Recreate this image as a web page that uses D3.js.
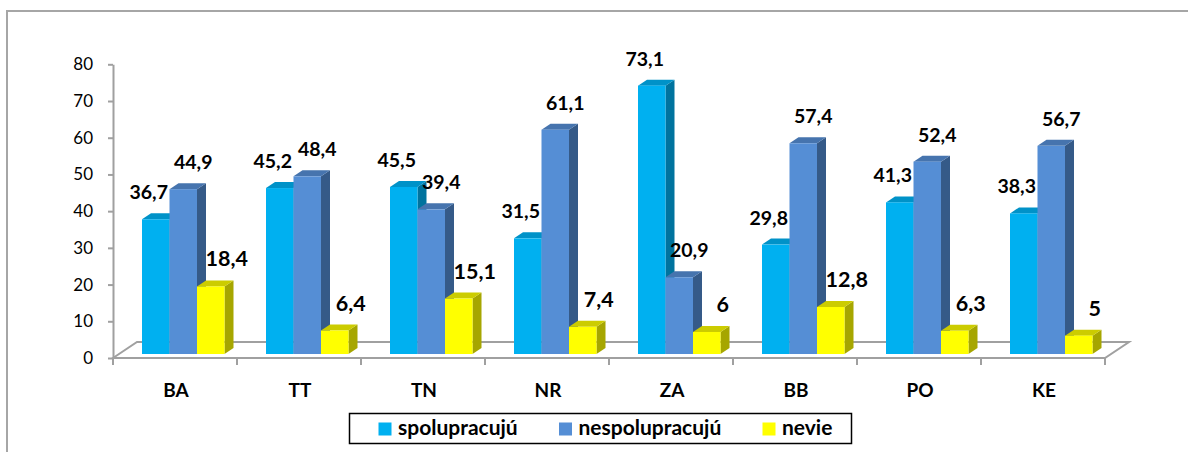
<!DOCTYPE html>
<html>
<head>
<meta charset="utf-8">
<script src="https://cdn.jsdelivr.net/npm/d3@7"></script>
<style>
  body { margin: 0; background: #fff; }
  svg { display: block; font-family: Lato, "Open Sans", sans-serif; }
</style>
</head>
<body>
<svg id="chart" width="1188" height="452"></svg>
<script>
var categories = ["BA", "TT", "TN", "NR", "ZA", "BB", "PO", "KE"];
var spolupracuju = [36.7, 45.2, 45.5, 31.5, 73.1, 29.8, 41.3, 38.3];
var nespolupracuju = [44.9, 48.4, 39.4, 61.1, 20.9, 57.4, 52.4, 56.7];
var nevie = [18.4, 6.4, 15.1, 7.4, 6, 12.8, 6.3, 5];
var seriesNames = ["spolupracujú", "nespolupracujú", "nevie"];
var yTicks = [0, 10, 20, 30, 40, 50, 60, 70, 80];

var seriesValues = [spolupracuju, nespolupracuju, nevie];
// front, top, side
var colors = [
  {front: "#00B0F0", top: "#0092C8", side: "#00739E"},
  {front: "#558ED5", top: "#4674AE", side: "#355A88"},
  {front: "#FFFF00", top: "#CCCC00", side: "#A6A600"}
];
var labelShift = [-7, 10, 16];
var labelSize = [19.5, 19.5, 21.5];

var svg = d3.select("#chart");

// outer frame
svg.append("rect")
  .attr("x", 7).attr("y", 11)
  .attr("width", 1300).attr("height", 600)
  .attr("fill", "none")
  .attr("stroke", "#A6A6A6")
  .attr("stroke-width", 2);

var x = d3.scaleBand().domain(categories).range([113, 1105]);
var y = d3.scaleLinear().domain([0, 80]).range([358, 64.3]);

var floorDx = 24, floorDy = -16;   // depth of the floor
var barDx = 9, barDy = -6;         // depth of a bar
var shiftX = 8.25, shiftY = -4;    // bars sit in the middle of the floor depth

var inner = d3.scaleBand().domain(seriesNames)
  .range([x.bandwidth() / 2 - 41.25, x.bandwidth() / 2 + 41.25]);

var grey = "#A0A0A0";

// floor
var fx0 = x.range()[0], fx1 = x.range()[1], fy = y(0);
svg.append("path")
  .attr("d", "M" + fx0 + "," + fy + "L" + (fx0 + floorDx) + "," + (fy + floorDy) +
    "L" + (fx1 + floorDx) + "," + (fy + floorDy) + "L" + fx1 + "," + fy + "Z")
  .attr("fill", "none")
  .attr("stroke", grey)
  .attr("stroke-width", 2);

// category ticks at band edges
var edges = categories.map(function(c) { return x(c); }).concat([fx1]);
svg.selectAll("line.ctick").data(edges).enter().append("line")
  .attr("class", "ctick")
  .attr("x1", function(d) { return d; }).attr("x2", function(d) { return d; })
  .attr("y1", fy).attr("y2", fy + 7)
  .attr("stroke", grey).attr("stroke-width", 2);

// y axis
var yAxis = d3.axisLeft(y).tickValues(yTicks).tickSize(5).tickSizeOuter(0).tickPadding(15);
var gy = svg.append("g").attr("transform", "translate(113,0)").call(yAxis);
gy.select(".domain").attr("stroke", grey).attr("stroke-width", 2);
gy.selectAll(".tick line").attr("stroke", grey).attr("stroke-width", 2);
gy.selectAll(".tick text")
  .attr("font-family", "Lato, sans-serif")
  .attr("font-size", 17)
  .attr("fill", "#000");

// bars
var baseY = y(0) + shiftY;
var bars = [];
categories.forEach(function(c, ci) {
  seriesNames.forEach(function(s, si) {
    bars.push({cat: c, si: si, v: seriesValues[si][ci]});
  });
});

var g = svg.selectAll("g.bar").data(bars).enter().append("g").attr("class", "bar");

function bx0(d) { return x(d.cat) + inner(seriesNames[d.si]) + shiftX; }
function bx1(d) { return bx0(d) + inner.bandwidth(); }
function byt(d) { return y(d.v) + shiftY; }

g.append("path")
  .attr("d", function(d) {
    var x1 = bx1(d), yt = byt(d);
    return "M" + x1 + "," + baseY + "L" + (x1 + barDx) + "," + (baseY + barDy) +
      "L" + (x1 + barDx) + "," + (yt + barDy) + "L" + x1 + "," + yt + "Z";
  })
  .attr("fill", function(d) { return colors[d.si].side; });

g.append("path")
  .attr("d", function(d) {
    var x0 = bx0(d), x1 = bx1(d), yt = byt(d);
    return "M" + x0 + "," + yt + "L" + x1 + "," + yt + "L" + (x1 + barDx) + "," + (yt + barDy) +
      "L" + (x0 + barDx) + "," + (yt + barDy) + "Z";
  })
  .attr("fill", function(d) { return colors[d.si].top; });

g.append("rect")
  .attr("x", bx0)
  .attr("y", byt)
  .attr("width", inner.bandwidth())
  .attr("height", function(d) { return baseY - byt(d); })
  .attr("fill", function(d) { return colors[d.si].front; });

// value labels
svg.selectAll("text.val").data(bars).enter().append("text")
  .attr("class", "val")
  .attr("x", function(d) { return (bx0(d) + bx1(d)) / 2 + labelShift[d.si]; })
  .attr("y", function(d) { return byt(d) - 20; })
  .attr("text-anchor", "middle")
  .attr("font-weight", "bold")
  .attr("font-size", function(d) { return labelSize[d.si]; })
  .attr("fill", "#000")
  .text(function(d) { return String(d.v).replace(".", ","); });

// category labels
svg.selectAll("text.cat").data(categories).enter().append("text")
  .attr("class", "cat")
  .attr("x", function(d) { return x(d) + x.bandwidth() / 2 + 1; })
  .attr("y", 397)
  .attr("text-anchor", "middle")
  .attr("font-weight", "bold")
  .attr("font-size", 19)
  .attr("fill", "#000")
  .text(function(d) { return d; });

// legend
var legend = svg.append("g");
legend.append("rect")
  .attr("x", 349.5).attr("y", 413.5)
  .attr("width", 502).attr("height", 30)
  .attr("fill", "#fff")
  .attr("stroke", "#000")
  .attr("stroke-width", 1.5);

var legendX = [378.5, 559, 762.5];
var li = legend.selectAll("g.item").data(seriesNames).enter().append("g").attr("class", "item");
li.append("rect")
  .attr("x", function(d, i) { return legendX[i]; })
  .attr("y", 422.5)
  .attr("width", 13).attr("height", 13)
  .attr("fill", function(d, i) { return colors[i].front; });
li.append("text")
  .attr("x", function(d, i) { return legendX[i] + 19.5; })
  .attr("y", 435)
  .attr("font-weight", "bold")
  .attr("font-size", 21)
  .attr("fill", "#000")
  .text(function(d) { return d; });
</script>
</body>
</html>
